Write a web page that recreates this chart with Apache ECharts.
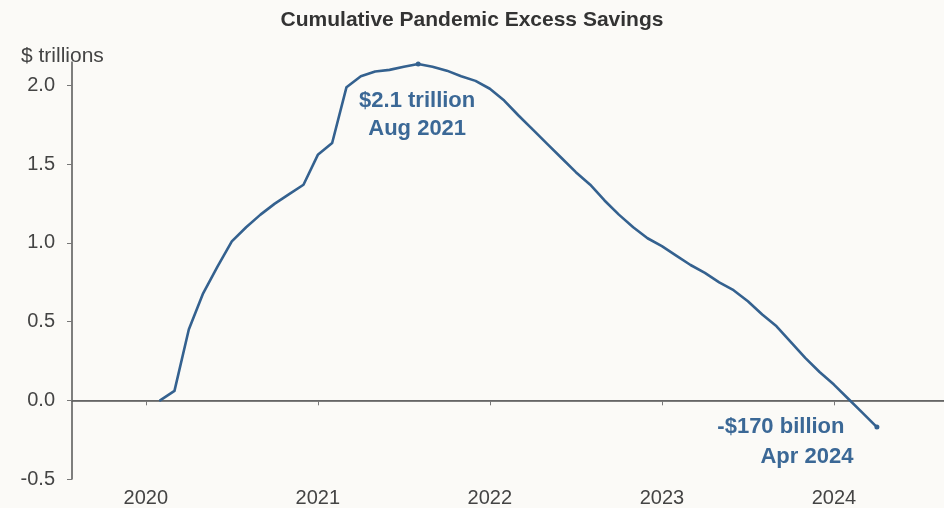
<!DOCTYPE html>
<html>
<head>
<meta charset="utf-8">
<script src="https://cdn.jsdelivr.net/npm/echarts@6/dist/echarts.min.js"></script>
<style>
html,body{margin:0;padding:0;background:#fbfaf7;}
#c{width:944px;height:508px;}
</style>
</head>
<body>
<div id="c"></div>
<script>
// Monthly dates (Feb 2020 .. Apr 2024) as [year, month]
const months = [
  [2020,2],[2020,3],[2020,4],[2020,5],[2020,6],[2020,7],[2020,8],[2020,9],[2020,10],[2020,11],[2020,12],
  [2021,1],[2021,2],[2021,3],[2021,4],[2021,5],[2021,6],[2021,7],[2021,8],[2021,9],[2021,10],[2021,11],[2021,12],
  [2022,1],[2022,2],[2022,3],[2022,4],[2022,5],[2022,6],[2022,7],[2022,8],[2022,9],[2022,10],[2022,11],[2022,12],
  [2023,1],[2023,2],[2023,3],[2023,4],[2023,5],[2023,6],[2023,7],[2023,8],[2023,9],[2023,10],[2023,11],[2023,12],
  [2024,1],[2024,2],[2024,3],[2024,4]
];
// Cumulative excess savings, $ trillions
const savings = [
  0.00,0.06,0.45,0.68,0.85,1.01,1.10,1.18,1.25,1.31,1.37,
  1.56,1.635,1.99,2.06,2.09,2.10,2.12,2.137,2.12,2.095,2.06,2.03,
  1.98,1.905,1.81,1.72,1.63,1.54,1.45,1.37,1.27,1.18,1.10,1.03,
  0.98,0.92,0.86,0.81,0.75,0.70,0.63,0.545,0.47,0.37,0.27,0.18,
  0.10,0.01,-0.08,-0.17
];
const yearTicks = [2020,2021,2022,2023,2024];
const yTicks = [-0.5,0,0.5,1.0,1.5,2.0];
const peakLabel = ['$2.1 trillion','Aug 2021'];
const endLabel = ['-$170 billion','Apr 2024'];

const toX = m => m[0] + (m[1]-1)/12;
const data = months.map((m,i)=>[toX(m), savings[i]]);
const peakIdx = 18, endIdx = data.length-1;

const blue = '#34618f';
const txtBlue = '#3b6896';
const FF = 'Liberation Sans, Arial, sans-serif';
const lblStyle = {color: txtBlue, fontFamily:FF, fontWeight:'bold', fontSize:22};

const chart = echarts.init(document.getElementById('c'), null, {renderer:'canvas'});
chart.setOption({
  backgroundColor:'#fbfaf7',
  animation:false,
  title:[
    {text:'Cumulative Pandemic Excess Savings', left:'center', top:5,
     textStyle:{fontFamily:FF, fontWeight:'bold', fontSize:21, color:'#333'}},
    {text:'$ trillions', left:16, top:41,
     textStyle:{fontFamily:FF, fontWeight:'normal', fontSize:21, color:'#444'}}
  ],
  grid:{left:72, right:0, top:62, bottom:28, containLabel:false},
  xAxis:{
    type:'value', min:2019.571, max:2024.64,
    axisLine:{show:true, lineStyle:{color:'#555', width:1.5}},
    axisTick:{show:true, customValues:yearTicks, length:5, lineStyle:{color:'#777'}},
    axisLabel:{customValues:yearTicks, margin:9, fontSize:20, color:'#444',
      fontFamily:FF, formatter: v=>String(Math.round(v))},
    splitLine:{show:false}
  },
  yAxis:{
    type:'value', min:-0.5, max:2.15,
    axisLine:{show:true, onZero:false, lineStyle:{color:'#555', width:1.5}},
    axisTick:{show:true, customValues:yTicks, length:5, lineStyle:{color:'#777'}},
    axisLabel:{customValues:yTicks, margin:17, fontSize:20, color:'#444',
      fontFamily:FF, formatter: v=>v.toFixed(1)},
    splitLine:{show:false}
  },
  series:[{
    type:'line',
    data:data,
    showSymbol:false,
    symbol:'none',
    lineStyle:{color:blue, width:2.6, join:'round', cap:'round'},
    markLine:{
      silent:true, symbol:'none', z:1,
      lineStyle:{color:'#666', width:1.2, type:'solid'},
      label:{show:false},
      data:[{yAxis:0}]
    },
    markPoint:{
      silent:true,
      data:[
        {coord:data[peakIdx], symbol:'circle', symbolSize:5, itemStyle:{color:blue}, label:{show:false}},
        {coord:data[endIdx], symbol:'circle', symbolSize:5, itemStyle:{color:blue}, label:{show:false}},
        {coord:data[peakIdx], symbol:'circle', symbolSize:0,
          label:Object.assign({show:true, formatter:peakLabel[0], offset:[-1,37], align:'center'}, lblStyle)},
        {coord:data[peakIdx], symbol:'circle', symbolSize:0,
          label:Object.assign({show:true, formatter:peakLabel[1], offset:[-1,65], align:'center'}, lblStyle)},
        {coord:data[endIdx], symbol:'circle', symbolSize:0,
          label:Object.assign({show:true, formatter:endLabel[0], offset:[-96,0], align:'center'}, lblStyle)},
        {coord:data[endIdx], symbol:'circle', symbolSize:0,
          label:Object.assign({show:true, formatter:endLabel[1], offset:[-70,30], align:'center'}, lblStyle)}
      ]
    }
  }]
});
</script>
</body>
</html>
